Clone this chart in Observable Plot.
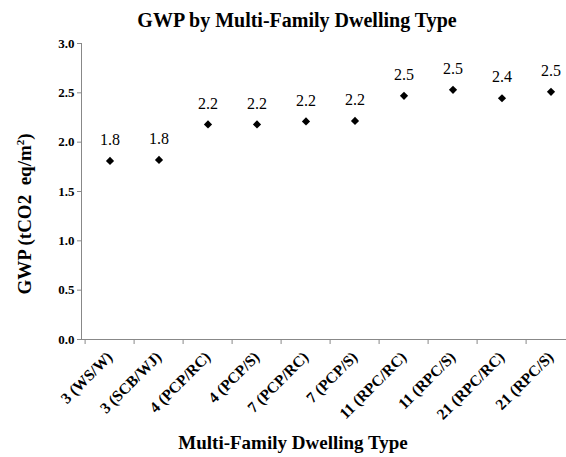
<!DOCTYPE html>
<html>
<head>
<meta charset="utf-8">
<script src="https://cdn.jsdelivr.net/npm/d3@7"></script>
<script src="https://cdn.jsdelivr.net/npm/@observablehq/plot@0.6"></script>
<style>
  html, body { margin: 0; padding: 0; background: #fff; }
  #wrap { position: relative; width: 566px; height: 457px; overflow: hidden; font-family: "Liberation Serif", "Times New Roman", serif; }
  .title { position: absolute; left: 0; width: 594px; top: 8px; text-align: center; font-weight: bold; font-size: 20px; line-height: 24px; color: #000; }
  .xlab { position: absolute; left: 0; width: 586px; top: 431px; text-align: center; font-weight: bold; font-size: 19px; line-height: 24px; color: #000; }
  .ylab { position: absolute; left: 25px; top: 214px; transform: translate(-50%, -50%) rotate(-90deg); white-space: nowrap; font-weight: bold; font-size: 19px; line-height: 22px; color: #000; }
  .ylab sup { font-size: 11px; vertical-align: 7px; line-height: 0; }
  svg { position: absolute; left: 0; top: 0; }
  svg text { font-family: "Liberation Serif", "Times New Roman", serif !important; }
</style>
</head>
<body>
<div id="wrap">
  <div class="title">GWP by Multi-Family Dwelling Type</div>
  <div class="ylab">GWP (tCO2&nbsp; eq/m<sup>2</sup>)</div>
  <div class="xlab">Multi-Family Dwelling Type</div>
</div>
<script>
const categories = ["3 (WS/W)", "3 (SCB/WJ)", "4 (PCP/RC)", "4 (PCP/S)", "7 (PCP/RC)", "7 (PCP/S)", "11 (RPC/RC)", "11 (RPC/S)", "21 (RPC/RC)", "21 (RPC/S)"];
const gwp = [1.81, 1.82, 2.18, 2.18, 2.21, 2.215, 2.47, 2.53, 2.445, 2.51];
const yTicks = [0, 0.5, 1.0, 1.5, 2.0, 2.5, 3.0];

const data = categories.map((c, i) => ({type: c, gwp: gwp[i]}));
const font = "Liberation Serif";
const xRange = [81, 579];
const bw = (xRange[1] - xRange[0]) / categories.length;

const chart = Plot.plot({
  width: 566,
  height: 457,
  marginLeft: 81,
  marginTop: 43,
  marginBottom: 118,
  marginRight: 0,
  style: {fontFamily: font, background: "transparent", overflow: "visible"},
  x: {domain: categories, range: xRange, padding: 0, type: "band"},
  y: {domain: [0, 3], ticks: yTicks},
  marks: [
    Plot.axisY({ticks: yTicks, tickFormat: d3.format(".1f"), tickSize: 4, tickPadding: 3, stroke: "#888", fill: "#000", fontWeight: "bold", fontSize: 13, fontFamily: font, label: null}),
    Plot.axisX({tickSize: 5, stroke: "#888", tickFormat: () => "", dx: -bw / 2, label: null}),
    Plot.axisX({tickSize: 0, tickPadding: 15, tickRotate: -45, fontWeight: "bold", fontSize: 15.5, fontFamily: font, fill: "#000", label: null}),
    Plot.frame({anchor: "left", stroke: "#888"}),
    Plot.frame({anchor: "bottom", stroke: "#888"}),
    Plot.dot(data, {x: "type", y: "gwp", symbol: "diamond2", fill: "#000", stroke: "none", r: 3.7}),
    Plot.text(data, {x: "type", y: "gwp", text: d => d.gwp.toFixed(1), dy: -21, fontSize: 16, fontFamily: font, fill: "#000"})
  ]
});
document.getElementById("wrap").appendChild(chart);
</script>
</body>
</html>
